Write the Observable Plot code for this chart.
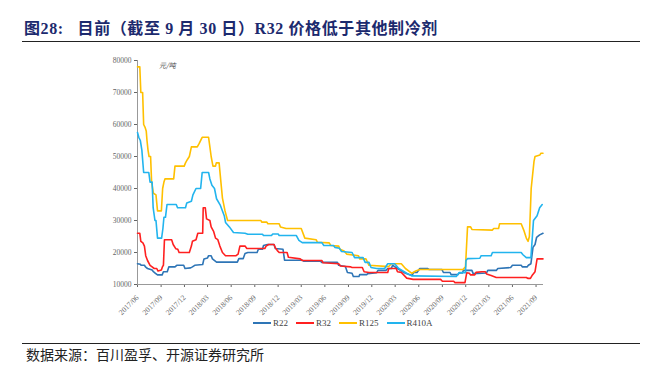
<!DOCTYPE html>
<html><head><meta charset="utf-8">
<script src="https://cdn.jsdelivr.net/npm/d3@7"></script>
<script src="https://cdn.jsdelivr.net/npm/@observablehq/plot@0.6"></script>
<style>
body{margin:0;background:#fff;}
#wrap{position:relative;width:650px;height:377px;overflow:hidden;background:#fff;}
#chart svg{position:absolute;left:0;top:0;}
.title{position:absolute;left:24px;top:19px;font-weight:bold;font-size:16px;line-height:20px;letter-spacing:0.6px;font-family:"Liberation Serif","Noto Sans CJK SC",serif;color:#1c2a6e;white-space:pre;}
.hr{position:absolute;left:22px;width:618px;height:1px;background:#222;}
.unit{position:absolute;left:159px;top:60px;font:7px "Noto Sans CJK SC",sans-serif;color:#444;font-style:italic;}
.src{position:absolute;left:26px;top:346px;font-size:14px;line-height:16px;font-family:"Noto Sans CJK SC",sans-serif;color:#222;}
.leg{position:absolute;top:318px;left:253px;display:flex;align-items:center;font:9px "Liberation Serif",serif;color:#444;}
.leg .it{display:flex;align-items:center;margin-right:8px;}
.leg .ln{width:18px;height:2px;margin-right:2px;}
</style></head>
<body>
<div id="wrap">
  <div id="chart"></div>
  <div class="title">图28:   目前（截至 9 月 30 日）R32 价格低于其他制冷剂</div>
  <div class="hr" style="top:41px"></div>
  <div class="unit">元/吨</div>
  <div class="leg" id="leg"></div>
  <div class="hr" style="top:343px"></div>
  <div class="src">数据来源：百川盈孚、开源证券研究所</div>
</div>
<script>
const seriesNames = ["R22", "R32", "R125", "R410A"];
const seriesColors = ["#2E75B6", "#FF2020", "#FFC000", "#22B4EE"];
const yTicks = [10000, 20000, 30000, 40000, 50000, 60000, 70000, 80000];
const xTickLabels = ["2017/06","2017/09","2017/12","2018/03","2018/06","2018/09","2018/12","2019/03","2019/06","2019/09","2019/12","2020/03","2020/06","2020/09","2020/12","2021/03","2021/06","2021/09"];

const r22 = [
["2017-06-01",16500],["2017-06-12",16300],["2017-06-15",16000],["2017-06-28",16000],["2017-07-02",15500],["2017-07-10",15000],["2017-07-28",14500],["2017-08-02",14000],["2017-08-10",13500],["2017-08-18",13000],["2017-09-05",13000],["2017-09-10",14000],["2017-09-25",14000],["2017-10-01",15500],["2017-10-25",15500],["2017-11-01",16000],["2017-11-28",16000],["2017-12-03",15000],["2017-12-25",15200],["2018-01-01",15500],["2018-01-10",16000],["2018-02-10",16250],["2018-02-15",18000],["2018-03-01",18300],["2018-03-05",19000],["2018-03-15",19000],["2018-03-20",18000],["2018-04-05",17000],["2018-06-25",17000],["2018-07-01",18100],["2018-07-18",18100],["2018-07-25",19700],["2018-08-05",20000],["2018-09-10",20000],["2018-09-15",21000],["2018-10-01",21000],["2018-10-05",22200],["2018-10-20",22500],["2018-11-15",22500],["2018-11-20",21250],["2018-12-20",21000],["2018-12-26",17600],["2019-03-05",17600],["2019-03-10",17300],["2019-05-15",17300],["2019-05-20",16900],["2019-07-20",16900],["2019-07-25",16000],["2019-08-20",15600],["2019-08-28",13750],["2019-09-15",13500],["2019-09-20",12500],["2019-10-12",12500],["2019-10-15",13100],["2019-11-12",13100],["2019-11-15",13400],["2019-12-20",13700],["2019-12-25",14400],["2020-01-25",14400],["2020-02-01",15000],["2020-02-15",15000],["2020-02-20",16000],["2020-02-28",15600],["2020-03-10",15000],["2020-04-10",13500],["2020-05-05",12800],["2020-05-12",13750],["2020-05-25",13750],["2020-06-05",15000],["2020-07-05",15000],["2020-07-10",14700],["2020-08-30",14700],["2020-09-05",13750],["2020-10-01",13750],["2020-10-05",13100],["2020-11-01",13100],["2020-11-05",13600],["2020-11-18",13600],["2020-11-22",14400],["2020-12-25",14400],["2020-12-30",13400],["2021-02-20",13600],["2021-02-25",14400],["2021-03-30",14400],["2021-04-05",15000],["2021-05-25",15300],["2021-06-01",16000],["2021-07-05",16000],["2021-07-10",15500],["2021-07-28",15500],["2021-08-02",16000],["2021-08-12",16500],["2021-08-20",21600],["2021-08-28",22500],["2021-09-03",24700],["2021-09-15",25500],["2021-09-28",26000]
];
const r32 = [
["2017-06-01",26000],["2017-06-10",26000],["2017-06-14",23500],["2017-06-22",23000],["2017-06-28",22000],["2017-07-03",19000],["2017-07-10",17500],["2017-07-20",16000],["2017-07-28",15500],["2017-08-05",15000],["2017-08-15",15000],["2017-08-20",14200],["2017-09-02",14500],["2017-09-06",15500],["2017-09-10",16000],["2017-09-14",24000],["2017-10-12",24000],["2017-10-18",22500],["2017-10-28",21200],["2017-11-05",21000],["2017-11-10",20000],["2017-12-20",20000],["2017-12-28",22000],["2018-01-01",23500],["2018-01-15",24000],["2018-01-22",26000],["2018-02-10",26000],["2018-02-12",34000],["2018-02-20",34000],["2018-02-25",30500],["2018-03-10",30000],["2018-03-15",28000],["2018-03-25",26500],["2018-04-01",24500],["2018-04-10",24000],["2018-04-18",22000],["2018-04-28",20000],["2018-05-10",19000],["2018-06-20",19000],["2018-06-28",19500],["2018-07-05",22000],["2018-07-25",22000],["2018-08-01",21250],["2018-10-10",21250],["2018-10-15",22000],["2018-10-25",22500],["2018-11-15",22500],["2018-11-20",21500],["2018-11-28",20600],["2018-12-05",20000],["2019-01-05",20000],["2019-01-10",18500],["2019-02-25",18000],["2019-03-05",17500],["2019-05-20",17500],["2019-05-25",16800],["2019-07-25",16500],["2019-08-01",15800],["2019-09-10",15500],["2019-09-15",15300],["2019-10-25",15300],["2019-11-01",14000],["2019-11-20",13750],["2020-02-01",13750],["2020-02-05",15000],["2020-03-05",15000],["2020-03-10",14000],["2020-03-25",13800],["2020-04-15",12000],["2020-05-10",11600],["2020-08-25",11600],["2020-09-01",11000],["2020-10-15",11000],["2020-10-20",10600],["2020-11-28",10600],["2020-12-05",13700],["2020-12-15",13500],["2020-12-20",13000],["2021-01-05",13000],["2021-01-10",13800],["2021-02-01",14000],["2021-02-15",14000],["2021-02-20",13300],["2021-03-10",12800],["2021-03-30",12200],["2021-07-25",12200],["2021-08-01",11900],["2021-08-10",11900],["2021-08-18",13000],["2021-08-28",14000],["2021-09-05",18000],["2021-09-28",18000]
];
const r125 = [
["2017-06-01",78000],["2017-06-10",78000],["2017-06-14",70000],["2017-06-21",70000],["2017-06-25",60000],["2017-07-01",59000],["2017-07-05",58000],["2017-07-08",55000],["2017-07-12",52000],["2017-07-16",50000],["2017-07-22",50000],["2017-07-26",42000],["2017-08-02",38500],["2017-08-12",38000],["2017-08-18",33000],["2017-09-02",33000],["2017-09-07",40000],["2017-09-12",42000],["2017-09-16",43000],["2017-10-20",43000],["2017-10-25",47000],["2017-11-30",47000],["2017-12-05",48000],["2017-12-12",49000],["2017-12-20",50000],["2017-12-28",53000],["2018-01-20",53000],["2018-01-27",54000],["2018-02-08",56000],["2018-03-05",56000],["2018-03-10",53000],["2018-03-15",50000],["2018-03-22",47000],["2018-04-01",47000],["2018-04-04",48000],["2018-04-15",48000],["2018-04-22",42000],["2018-04-28",37000],["2018-05-08",33000],["2018-05-18",30000],["2018-09-25",30000],["2018-09-28",29500],["2018-10-18",29500],["2018-10-22",29000],["2018-12-05",29000],["2018-12-10",28000],["2019-01-01",27500],["2019-03-01",27500],["2019-03-15",24500],["2019-04-28",24000],["2019-05-03",23200],["2019-06-18",23000],["2019-06-24",22200],["2019-07-25",22000],["2019-07-30",21000],["2019-08-15",20500],["2019-08-25",19500],["2019-10-10",19000],["2019-10-15",18000],["2019-11-08",18000],["2019-11-20",16000],["2020-02-05",15600],["2020-02-15",16500],["2020-03-25",16500],["2020-04-10",15000],["2020-05-05",13500],["2020-05-20",14200],["2020-06-05",14700],["2020-11-20",14700],["2020-11-30",15500],["2020-12-08",28000],["2020-12-20",28000],["2020-12-25",27200],["2021-03-15",27000],["2021-03-20",27500],["2021-04-08",27500],["2021-04-12",29000],["2021-07-05",29000],["2021-07-15",27000],["2021-07-25",24500],["2021-08-01",23500],["2021-08-06",25000],["2021-08-13",40000],["2021-08-24",48500],["2021-08-28",50000],["2021-09-16",50500],["2021-09-20",51000],["2021-09-28",51000]
];
const r410a = [
["2017-06-01",57500],["2017-06-06",56000],["2017-06-12",55000],["2017-06-18",52000],["2017-06-25",45000],["2017-07-15",45000],["2017-07-20",42000],["2017-07-28",42000],["2017-08-01",34000],["2017-08-08",30000],["2017-08-12",30000],["2017-08-18",24500],["2017-09-03",24500],["2017-09-08",27500],["2017-09-12",31000],["2017-09-18",31000],["2017-09-24",35000],["2017-10-30",35000],["2017-11-04",34000],["2017-12-05",34000],["2017-12-10",35500],["2017-12-28",36000],["2018-01-03",38000],["2018-01-15",40000],["2018-02-02",40000],["2018-02-08",45000],["2018-03-05",45000],["2018-03-10",43000],["2018-03-18",41000],["2018-03-28",40000],["2018-04-05",36800],["2018-04-20",34700],["2018-05-05",31500],["2018-05-10",29400],["2018-05-25",28000],["2018-06-10",26250],["2018-07-25",26000],["2018-08-05",25700],["2018-10-01",25700],["2018-10-05",25300],["2018-11-05",25300],["2018-11-10",25800],["2018-12-01",25800],["2018-12-05",25300],["2019-02-10",25300],["2019-02-20",23800],["2019-03-05",23100],["2019-05-20",23100],["2019-05-28",22200],["2019-07-05",22200],["2019-07-10",21600],["2019-07-28",21300],["2019-08-05",20300],["2019-09-15",20000],["2019-09-25",18400],["2019-10-28",18400],["2019-11-05",16900],["2019-11-20",16900],["2019-11-28",15300],["2019-12-20",15000],["2020-01-20",15000],["2020-02-01",16500],["2020-02-28",16500],["2020-03-15",15000],["2020-04-15",13500],["2020-05-05",12700],["2020-10-25",12500],["2020-11-05",13700],["2020-11-30",13700],["2020-12-02",17500],["2020-12-08",18100],["2021-01-25",18200],["2021-01-30",19000],["2021-03-10",19000],["2021-03-15",20000],["2021-07-05",20000],["2021-07-12",19300],["2021-07-25",18400],["2021-08-12",18400],["2021-08-15",22000],["2021-08-22",30000],["2021-09-05",31500],["2021-09-15",34000],["2021-09-25",35000]
];

const seriesData = [r22, r32, r125, r410a];
const rows = seriesData.flatMap((arr, i) => arr.map(([d, v]) => ({series: seriesNames[i], date: new Date(d + "T00:00:00Z"), value: v})));
const xTicks = xTickLabels.map(s => new Date(s.replace("/", "-") + "-01T00:00:00Z"));
const x0 = new Date("2017-06-01T00:00:00Z"), x1 = new Date("2021-09-30T00:00:00Z");

const chart = Plot.plot({
  width: 650, height: 377,
  marginLeft: 137, marginRight: 107, marginTop: 60, marginBottom: 93,
  style: {fontFamily: "'Liberation Serif', serif", fontSize: "7.5px", color: "#666", background: "transparent"},
  x: {type: "utc", domain: [x0, x1], ticks: xTicks, tickFormat: d3.utcFormat("%Y/%m"), tickRotate: -45, tickSize: 3, label: null},
  y: {domain: [10000, 80000], ticks: yTicks, tickFormat: d => String(d), tickSize: 3, tickPadding: 3, label: null},
  color: {domain: seriesNames, range: seriesColors},
  marks: [
    Plot.ruleY([10000], {stroke: "#999"}),
    Plot.ruleX([x0], {stroke: "#999"}),
    Plot.lineY(rows, {x: "date", y: "value", z: "series", stroke: "series", strokeWidth: 1.6})
  ]
});
document.getElementById("chart").appendChild(chart);

const leg = document.getElementById("leg");
seriesNames.forEach((n, i) => {
  const it = document.createElement("div"); it.className = "it";
  const ln = document.createElement("div"); ln.className = "ln"; ln.style.background = seriesColors[i];
  const t = document.createElement("span"); t.textContent = n;
  it.appendChild(ln); it.appendChild(t); leg.appendChild(it);
});
</script>
</body></html>
